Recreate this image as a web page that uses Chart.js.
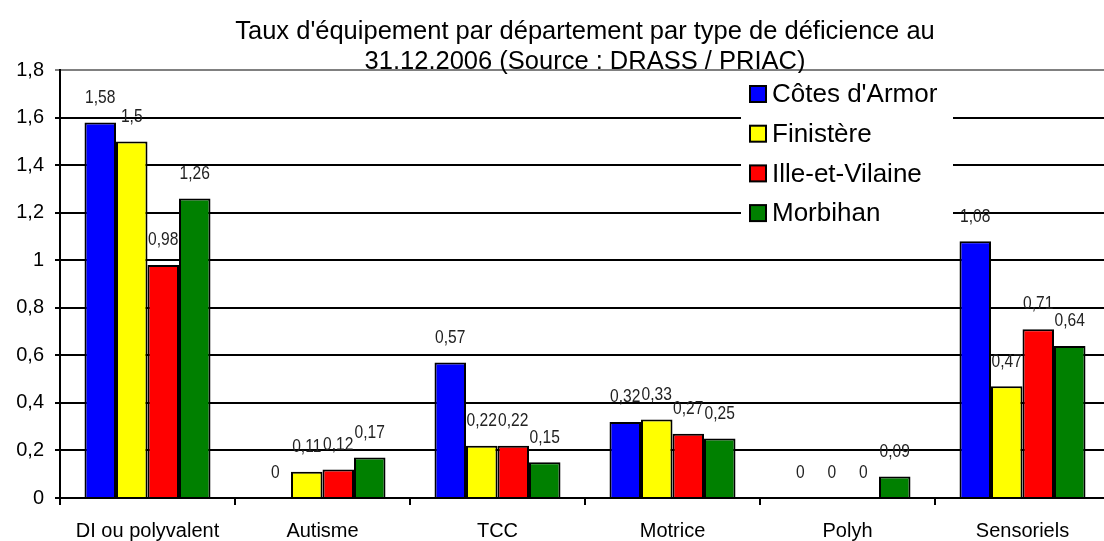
<!DOCTYPE html>
<html>
<head>
<meta charset="utf-8">
<script src="https://cdn.jsdelivr.net/npm/chart.js@4/dist/chart.umd.min.js"></script>
<style>
  html, body { margin: 0; padding: 0; background: #fff; overflow: hidden; }
  #wrap { width: 1110px; height: 541px; }
</style>
</head>
<body>
<div id="wrap"><canvas id="tauxChart" width="1110" height="541"></canvas></div>
<script>
// Catégories et séries
var categories = ['DI ou polyvalent', 'Autisme', 'TCC', 'Motrice', 'Polyh', 'Sensoriels'];
var departements = ["Côtes d'Armor", 'Finistère', 'Ille-et-Vilaine', 'Morbihan'];
var couleurs = ['#0000FF', '#FFFF00', '#FF0000', '#008000'];

var cotesArmor = [1.58, 0, 0.57, 0.32, 0, 1.08];
var finistere = [1.5, 0.11, 0.22, 0.33, 0, 0.47];
var illeVilaine = [0.98, 0.12, 0.22, 0.27, 0, 0.71];
var morbihan = [1.26, 0.17, 0.15, 0.25, 0.09, 0.64];

var titre = ["Taux d'équipement par département par type de déficience au", '31.12.2006 (Source : DRASS / PRIAC)'];

// Format décimal à la française
function virgule(v) {
    return String(Math.round(v * 100) / 100).replace('.', ',');
}

// Étiquettes de valeurs au-dessus des barres (police étroite simulée)
var etiquettesPlugin = {
    id: 'etiquettes',
    afterDatasetsDraw: function (chart) {
        var ctx = chart.ctx;
        var sx = 0.82;
        ctx.save();
        ctx.font = '19px "Liberation Sans", Arial, sans-serif';
        ctx.fillStyle = '#222';
        ctx.textAlign = 'center';
        ctx.textBaseline = 'middle';
        chart.data.datasets.forEach(function (ds, i) {
            chart.getDatasetMeta(i).data.forEach(function (bar, j) {
                ctx.save();
                ctx.translate(bar.x, bar.y - 25);
                ctx.scale(sx, 1);
                ctx.fillText(virgule(ds.data[j]), 0, 0);
                ctx.restore();
            });
        });
        ctx.restore();
    }
};

// Légende dans la zone du graphique
var legendePlugin = {
    id: 'legende',
    afterDatasetsDraw: function (chart) {
        var ctx = chart.ctx;
        ctx.save();
        ctx.fillStyle = '#fff';
        ctx.fillRect(741, 73, 212, 163);
        ctx.font = '26px "Liberation Sans", Arial, sans-serif';
        ctx.textBaseline = 'middle';
        ctx.textAlign = 'left';
        chart.data.datasets.forEach(function (ds, i) {
            var y = 94 + i * 39.7;
            ctx.fillStyle = ds.backgroundColor;
            ctx.fillRect(750, y - 8, 16, 16);
            ctx.strokeStyle = '#000';
            ctx.lineWidth = 2;
            ctx.strokeRect(750, y - 8, 16, 16);
            ctx.fillStyle = '#000';
            ctx.fillText(ds.label, 772, y + 1);
        });
        ctx.restore();
    }
};

var series = [cotesArmor, finistere, illeVilaine, morbihan];

var ctx = document.getElementById('tauxChart').getContext('2d');
var tauxChart = new Chart(ctx, {
    type: 'bar',
    data: {
        labels: categories,
        datasets: series.map(function (values, i) {
            return {
                label: departements[i],
                data: values,
                backgroundColor: couleurs[i],
                borderColor: '#000',
                borderWidth: 2,
                categoryPercentage: 0.72,
                barPercentage: 1.0
            };
        })
    },
    options: {
        responsive: false,
        devicePixelRatio: 1,
        animation: false,
        layout: { padding: { left: 0, right: 0, top: 0, bottom: 0 } },
        plugins: {
            legend: { display: false },
            tooltip: { enabled: false },
            title: {
                display: true,
                fullSize: false,
                text: titre,
                color: '#000',
                font: { family: '"Liberation Sans", Arial, sans-serif', size: 25.5, weight: 'normal', lineHeight: 1.18 },
                padding: { top: 17, bottom: -7 }
            }
        },
        scales: {
            x: {
                grid: { display: true, drawOnChartArea: false, drawTicks: true, tickLength: 7, color: '#000', lineWidth: 2, offset: true },
                border: { display: true, color: '#000', width: 2 },
                ticks: { color: '#000', padding: 14, font: { family: '"Liberation Sans", Arial, sans-serif', size: 20 } },
                afterFit: function (s) { s.height = 43; }
            },
            y: {
                min: 0,
                max: 1.8,
                ticks: {
                    stepSize: 0.2,
                    color: '#000',
                    padding: 11,
                    font: { family: '"Liberation Sans", Arial, sans-serif', size: 20 },
                    callback: function (v) { return virgule(v); }
                },
                grid: {
                    drawTicks: true,
                    tickLength: 5,
                    lineWidth: 2,
                    color: function (c) { return c.tick && Math.abs(c.tick.value - 1.8) < 1e-6 ? '#808080' : '#000'; }
                },
                border: { display: true, color: '#000', width: 2 },
                afterFit: function (s) { s.width = 60; }
            }
        }
    },
    plugins: [etiquettesPlugin, legendePlugin]
});
</script>
</body>
</html>
